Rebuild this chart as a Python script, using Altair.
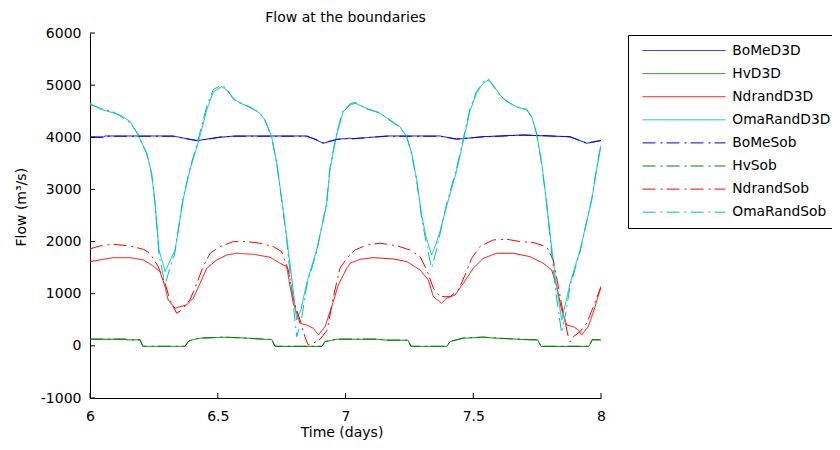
import altair as alt
import pandas as pd

# ---------------- data ----------------
series_names = ["BoMeD3D", "HvD3D", "NdrandD3D", "OmaRandD3D",
                "BoMeSob", "HvSob", "NdrandSob", "OmaRandSob"]
series_colors = ["#0000ff", "#008000", "#ff0000", "#00bfbf",
                 "#0000ff", "#008000", "#ff0000", "#00bfbf"]
solid = [1, 0]
dashdot = [13, 5, 2, 4]
series_dashes = [solid, solid, solid, solid, dashdot, dashdot, dashdot, dashdot]

x_ticks = [6, 6.5, 7, 7.5, 8]
y_ticks = [-1000, 0, 1000, 2000, 3000, 4000, 5000, 6000]

t_bome = [6.000, 6.051, 6.059, 6.325, 6.372, 6.418, 6.470, 6.509, 6.568, 6.848,
          6.881, 6.913, 6.966, 7.018, 7.029, 7.161, 7.370, 7.435, 7.539, 7.695,
          7.761, 7.879, 7.944, 8.000]
v_bome_d3d = [4000, 4000, 4025, 4025, 3980, 3935, 3975, 4000, 4025, 4025,
              3960, 3885, 3962, 3982, 3970, 4025, 4025, 3962, 4012, 4045,
              4030, 4012, 3885, 3935]
v_bome_sob = [4005, 4005, 4020, 4020, 3975, 3940, 3970, 4005, 4020, 4020,
              3965, 3890, 3958, 3978, 3975, 4020, 4020, 3968, 4008, 4040,
              4035, 4008, 3890, 3940]

t_hv = [6.000, 6.137, 6.145, 6.196, 6.207, 6.372, 6.384, 6.399, 6.431, 6.521,
        6.607, 6.677, 6.712, 6.724, 6.908, 6.920, 6.967, 7.123, 7.166, 7.245,
        7.256, 7.397, 7.409, 7.460, 7.538, 7.593, 7.726, 7.753, 7.765, 7.953,
        7.965, 8.000]
v_hv_d3d = [127, 127, 115, 115, -10, -10, 80, 115, 146, 165,
            150, 127, 120, -10, -10, 80, 127, 127, 108, 108,
            -10, -10, 80, 146, 165, 146, 115, 115, -10, -10,
            115, 115]
v_hv_sob = [130, 130, 118, 118, -8, -8, 85, 118, 150, 168,
            152, 130, 122, -8, -8, 85, 130, 130, 110, 110,
            -8, -8, 85, 150, 168, 150, 118, 118, -8, -8,
            118, 118]

t_nd_d3d = [6.000, 6.091, 6.157, 6.209, 6.241, 6.274, 6.294, 6.306, 6.333, 6.352,
            6.378, 6.404, 6.431, 6.457, 6.496, 6.535, 6.574, 6.639, 6.705, 6.744,
            6.770, 6.783, 6.796, 6.822, 6.848, 6.874, 6.894, 6.920, 6.946, 6.972,
            7.005, 7.018, 7.057, 7.109, 7.187, 7.240, 7.292, 7.324, 7.344, 7.376,
            7.396, 7.429, 7.461, 7.500, 7.539, 7.592, 7.657, 7.722, 7.774, 7.807,
            7.827, 7.846, 7.866, 7.892, 7.911, 7.924, 7.950, 7.977, 8.000]
v_nd_d3d = [1615, 1692, 1692, 1648, 1552, 1423, 1135, 880, 720, 752,
            785, 913, 1200, 1488, 1648, 1743, 1776, 1757, 1699, 1584,
            1519, 1135, 817, 433, 400, 337, 209, 368, 752, 1168,
            1488, 1584, 1660, 1692, 1667, 1615, 1456, 1264, 943, 817,
            913, 976, 1200, 1488, 1680, 1776, 1776, 1711, 1584, 1456,
            1135, 689, 400, 368, 305, 209, 368, 752, 1135]

t_nd_sob = [6.000, 6.039, 6.091, 6.157, 6.209, 6.235, 6.267, 6.294, 6.313, 6.339,
            6.359, 6.391, 6.418, 6.443, 6.470, 6.509, 6.561, 6.613, 6.665, 6.717,
            6.750, 6.776, 6.796, 6.822, 6.841, 6.854, 6.874, 6.900, 6.928, 6.951,
            6.978, 7.005, 7.037, 7.083, 7.135, 7.200, 7.252, 7.292, 7.318, 7.344,
            7.370, 7.409, 7.442, 7.468, 7.494, 7.526, 7.578, 7.631, 7.683, 7.735,
            7.787, 7.813, 7.833, 7.852, 7.872, 7.879, 7.892, 7.918, 7.944, 7.970,
            8.000]
v_nd_sob = [1860, 1916, 1948, 1916, 1852, 1776, 1519, 1200, 880, 625,
            689, 880, 1200, 1519, 1776, 1905, 2000, 2000, 1968, 1905,
            1808, 1456, 880, 497, 176, 17, 50, 120, 300, 900,
            1488, 1680, 1838, 1935, 1968, 1922, 1838, 1711, 1456, 1105,
            943, 943, 1072, 1360, 1680, 1905, 2031, 2045, 2000, 1980,
            1905, 1648, 1135, 625, 176, 80, 176, 272, 433, 752,
            1135]

t_oma = [6.000, 6.039, 6.090, 6.117, 6.157, 6.188, 6.222, 6.241, 6.254, 6.270,
         6.294, 6.313, 6.333, 6.352, 6.364, 6.391, 6.423, 6.457, 6.483, 6.515,
         6.535, 6.561, 6.587, 6.626, 6.665, 6.685, 6.711, 6.731, 6.750, 6.767,
         6.787, 6.809, 6.826, 6.848, 6.887, 6.926, 6.939, 6.966, 6.991, 7.018,
         7.037, 7.083, 7.135, 7.174, 7.213, 7.240, 7.259, 7.279, 7.298, 7.315,
         7.337, 7.354, 7.370, 7.397, 7.432, 7.460, 7.487, 7.513, 7.539, 7.559,
         7.578, 7.605, 7.631, 7.670, 7.709, 7.729, 7.748, 7.768, 7.787, 7.804,
         7.824, 7.846, 7.863, 7.879, 7.918, 7.964, 7.980, 8.000]
v_oma_d3d = [4655, 4540, 4470, 4430, 4300, 4045, 3700, 3316, 2780, 1838,
             1423, 1630, 1838, 2415, 2798, 3374, 3890, 4525, 4875, 4970,
             4908, 4750, 4653, 4587, 4460, 4333, 4012, 3502, 2830, 2200,
             1400, 497, 700, 1206, 1838, 2700, 3374, 4060, 4490, 4620,
             4653, 4557, 4460, 4333, 4205, 4012, 3690, 3182, 2500, 2100,
             1742, 1950, 2200, 2700, 3300, 3900, 4500, 4845, 5036, 5100,
             5004, 4812, 4684, 4588, 4524, 4396, 4077, 3502, 2760, 2000,
             1200, 497, 850, 1200, 1838, 2798, 3300, 3850]
v_oma_sob = [4630, 4560, 4490, 4410, 4280, 4060, 3680, 3290, 2750, 1750,
             1168, 1500, 1800, 2450, 2830, 3400, 3950, 4600, 4920, 5000,
             4930, 4730, 4670, 4570, 4470, 4320, 4000, 3480, 2800, 2150,
             1200, 176, 450, 1150, 1800, 2750, 3420, 4100, 4520, 4640,
             4670, 4540, 4470, 4320, 4190, 4000, 3670, 3150, 2450, 2000,
             1488, 1800, 2150, 2750, 3350, 3950, 4550, 4880, 5060, 5120,
             4980, 4790, 4700, 4570, 4540, 4380, 4060, 3470, 2720, 1900,
             1000, 246, 650, 1150, 1800, 2830, 3330, 3870]

# ---------------- build table ----------------
pairs = [
    ("BoMeD3D", t_bome, v_bome_d3d), ("HvD3D", t_hv, v_hv_d3d),
    ("NdrandD3D", t_nd_d3d, v_nd_d3d), ("OmaRandD3D", t_oma, v_oma_d3d),
    ("BoMeSob", t_bome, v_bome_sob), ("HvSob", t_hv, v_hv_sob),
    ("NdrandSob", t_nd_sob, v_nd_sob), ("OmaRandSob", t_oma, v_oma_sob),
]
rows = []
for name, ts, vs in pairs:
    for t, v in zip(ts, vs):
        rows.append({"series": name, "t": t, "v": v})
df = pd.DataFrame(rows)

FONT = "DejaVu Sans"

leg = alt.Legend(
    title=None, orient="none", legendX=538, legendY=2,
    strokeColor="black", fillColor="white", padding=8, cornerRadius=0,
    symbolType="stroke", symbolSize=6889, symbolStrokeWidth=1,
    clipHeight=15, rowPadding=8.1, symbolOffset=6, labelOffset=6.3,
    labelFont=FONT, labelFontSize=13.8, labelColor="black", labelLimit=300,
)

x_axis = alt.Axis(
    values=x_ticks, labelExpr="'' + datum.value", ticks=False, tickSize=0,
    labelPadding=11, labelFlush=False, labelOverlap=False,
    labelFont=FONT, labelFontSize=14, labelColor="black",
    domainColor="black", domainWidth=1, grid=False,
    title="Time (days)", titleFont=FONT, titleFontSize=14, titleFontWeight="normal",
    titleColor="black", titleX=251.5, titleY=38, titleBaseline="alphabetic",
    titleAlign="center", titleAnchor="start",
)
y_axis = alt.Axis(
    values=y_ticks, labelExpr="'' + datum.value", ticks=False, tickSize=0,
    labelPadding=9, labelFlush=False, labelOverlap=False,
    labelFont=FONT, labelFontSize=14, labelColor="black",
    domainColor="black", domainWidth=1, grid=False,
    title="Flow (m³/s)", titleFont=FONT, titleFontSize=14, titleFontWeight="normal",
    titleColor="black", titleX=-65, titleY=173.7, titleAngle=270,
    titleBaseline="alphabetic", titleAlign="center", titleAnchor="start",
)

x_enc = alt.X("t:Q", scale=alt.Scale(domain=[6, 8], nice=False, zero=False), axis=x_axis)
y_enc = alt.Y("v:Q", scale=alt.Scale(domain=[-1000, 6000], nice=False, zero=False), axis=y_axis)

lines = alt.Chart(df).mark_line(strokeWidth=1, clip=True).encode(
    x=x_enc,
    y=y_enc,
    color=alt.Color("series:N", scale=alt.Scale(domain=series_names, range=series_colors), legend=leg),
    strokeDash=alt.StrokeDash("series:N", scale=alt.Scale(domain=series_names, range=series_dashes), legend=leg),
)

yticks = alt.Chart(pd.DataFrame({"v": y_ticks})).mark_rule(color="black", strokeWidth=1).encode(
    y="v:Q", x=alt.value(0), x2=alt.value(5)
)
xticks = alt.Chart(pd.DataFrame({"t": x_ticks})).mark_rule(color="black", strokeWidth=1).encode(
    x="t:Q", y=alt.value(365), y2=alt.value(360)
)

chart = alt.layer(lines, yticks, xticks).properties(
    width=511, height=365,
    title=alt.TitleParams("Flow at the boundaries", font=FONT, fontSize=14,
                          fontWeight="normal", color="black", offset=1, anchor="middle"),
    autosize=alt.AutoSizeParams(type="none"),
    padding={"left": 82, "top": 25, "right": 231, "bottom": 42},
    background="white",
).configure_view(stroke=None)

chart.save("out.html", embed_options={"renderer": "svg", "actions": False})
